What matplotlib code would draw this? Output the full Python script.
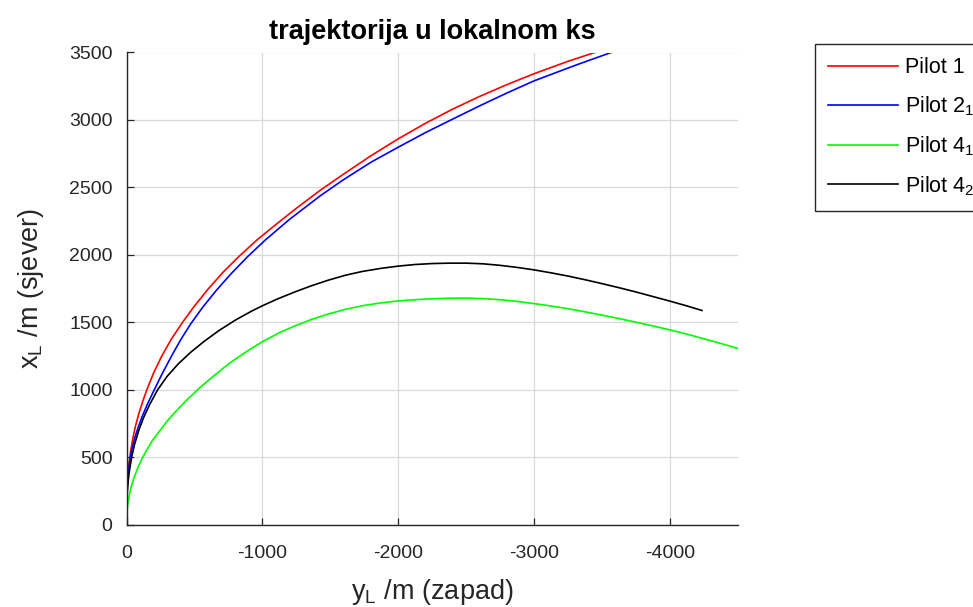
import matplotlib
matplotlib.use("Agg")
import matplotlib.pyplot as plt

plt.rcParams['font.family'] = ['Liberation Sans', 'DejaVu Sans']
plt.rcParams['mathtext.fontset'] = 'custom'
plt.rcParams['mathtext.rm'] = 'Liberation Sans'
plt.rcParams['mathtext.it'] = 'Liberation Sans'
plt.rcParams['mathtext.default'] = 'regular'

# Pilot 1 (red): y_L (west, negative) and x_L (north)
y_red = [0, -0.3, -1, -3, -7, -12, -18, -30, -45, -65, -90, -120, -150, -200, -260,
         -330, -413, -500, -600, -710, -830, -960, -1100, -1250, -1428, -1600, -1800,
         -2000, -2200, -2400, -2600, -2800, -3000, -3250, -3500]
x_red = [0, 95, 150, 240, 330, 395, 450, 540, 630, 725, 820, 915, 1000, 1125, 1250,
         1375, 1500, 1620, 1745, 1870, 1990, 2110, 2225, 2345, 2480, 2600, 2735,
         2860, 2975, 3080, 3175, 3262, 3343, 3435, 3518]
# Pilot 2_1 (blue)
y_blue = [0, -0.3, -1, -3, -7, -14, -25, -40, -60, -85, -115, -155, -205, -265, -335,
          -400, -474, -560, -660, -770, -890, -1022, -1200, -1428, -1600, -1800, -2000,
          -2200, -2400, -2600, -2800, -3000, -3300, -3580]
x_blue = [0, 85, 135, 210, 290, 385, 483, 560, 640, 718, 800, 895, 1000, 1123, 1256,
          1372, 1490, 1610, 1735, 1860, 1985, 2110, 2263, 2439, 2559, 2687, 2798,
          2906, 3006, 3105, 3200, 3290, 3404, 3505]
# Pilot 4_1 (green)
y_grn = [0, -0.5, -2, -5, -10, -20, -35, -55, -85, -120, -160, -190, -240, -300, -370,
         -450, -540, -640, -750, -876, -1000, -1120, -1240, -1360, -1486, -1610, -1733,
         -1870, -2000, -2125, -2250, -2375, -2500, -2625, -2746, -2870, -3000, -3125,
         -3250, -3370, -3487, -3620, -3750, -3875, -4000, -4130, -4250, -4400, -4550,
         -4650]
x_grn = [0, 38, 73, 112, 155, 215, 280, 346, 425, 500, 571, 622, 689, 768, 847,
         930, 1015, 1100, 1190, 1278, 1355, 1420, 1473, 1520, 1561, 1595, 1622,
         1643, 1658, 1667, 1674, 1678, 1679, 1675, 1667, 1655, 1638, 1620,
         1600, 1578, 1555, 1528, 1500, 1472, 1443, 1410, 1377, 1335, 1290,
         1260]
# Pilot 4_2 (black)
y_blk = [0, -0.3, -1, -3, -8, -18, -38, -60, -90, -125, -170, -230, -300, -380, -470,
         -570, -680, -800, -920, -1000, -1110, -1240, -1360, -1486, -1610, -1733, -1870,
         -2000, -2125, -2250, -2375, -2500, -2625, -2746, -2870, -3000, -3125, -3250,
         -3370, -3487, -3620, -3750, -3875, -4000, -4120, -4235]
x_blk = [0, 78, 123, 188, 275, 375, 500, 596, 697, 791, 889, 1000, 1100, 1190, 1275,
         1357, 1438, 1515, 1582, 1622, 1672, 1725, 1770, 1812, 1848, 1876, 1899,
         1916, 1928, 1935, 1938, 1938, 1933, 1922, 1907, 1888, 1866, 1842,
         1816, 1789, 1757, 1724, 1690, 1656, 1622, 1587]

labels = ['Pilot 1', 'Pilot 2$_1$', 'Pilot 4$_1$', 'Pilot 4$_2$']
colors = ['#ff0000', '#0000ff', '#00ff00', '#000000']
xticks = [0, -1000, -2000, -3000, -4000]
yticks = [0, 500, 1000, 1500, 2000, 2500, 3000, 3500]

W, H = 973, 607
fig = plt.figure(figsize=(W / 100, H / 100), dpi=100)
ax = fig.add_axes([126.5 / W, 1 - 524.5 / H, (738 - 126.5) / W, (524.5 - 52.5) / H])

series = [(y_red, x_red), (y_blue, x_blue), (y_grn, x_grn), (y_blk, x_blk)]
for (yy, xx), c, lab in zip(series, colors, labels):
    ax.plot(yy, xx, color=c, lw=1.2, label=lab, solid_joinstyle='round')

ax.set_xlim(0, -4500)
ax.set_ylim(0, 3500)
ax.set_xticks(xticks)
ax.set_xticklabels([str(v) for v in xticks])
ax.set_yticks(yticks)
ax.set_yticklabels([str(v) for v in yticks])
ax.grid(True, color='#d9d9d9', lw=0.9)
ax.set_axisbelow(True)
for s in ['top', 'right']:
    ax.spines[s].set_visible(False)
for s in ['left', 'bottom']:
    ax.spines[s].set_color('#262626')
    ax.spines[s].set_linewidth(1.0)
ax.tick_params(direction='in', length=5, width=0.9, colors='#262626', labelsize=14)
ax.tick_params(axis='x', pad=14.5)
ax.tick_params(axis='y', pad=10)

ax.set_title('trajektorija u lokalnom ks', fontsize=19.5, fontweight='bold', pad=9.5)
ax.set_xlabel('$y_L$ /m (zapad)', fontsize=19.5, color='#262626', labelpad=11)
ax.set_ylabel('$x_L$ /m (sjever)', fontsize=19.5, color='#262626', labelpad=17)

leg = fig.legend(loc='upper left', bbox_to_anchor=(815 / W, 1 - 44 / H),
                 bbox_transform=fig.transFigure, fontsize=15.5, handlelength=3.25,
                 handletextpad=0.3, labelspacing=0.75, borderpad=0.62,
                 borderaxespad=0, fancybox=False, framealpha=1, edgecolor='#262626')
leg.get_frame().set_linewidth(1.0)

fig.savefig('out.png', dpi=100)
